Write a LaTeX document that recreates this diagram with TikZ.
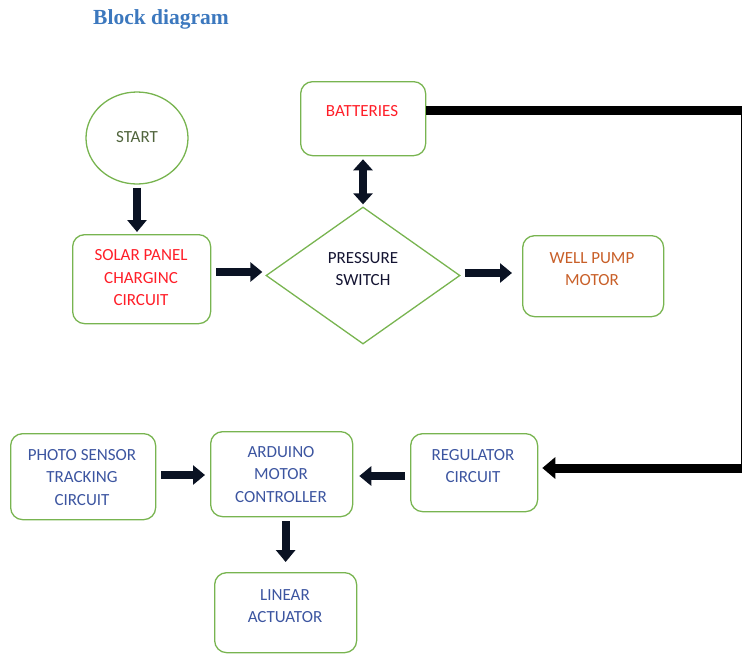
\documentclass[tikz,border=0pt]{standalone}
\usepackage{fontspec}
\setmainfont{Carlito}
\newfontfamily\titlefont{Liberation Serif}
\usetikzlibrary{arrows.meta,shapes.geometric,calc}
\definecolor{boxgreen}{RGB}{120,180,80}
\definecolor{txtred}{RGB}{255,30,40}
\definecolor{txtblue}{RGB}{60,85,160}
\definecolor{txtorange}{RGB}{200,95,40}
\definecolor{txtgreen}{RGB}{80,100,60}
\definecolor{txtnavy}{RGB}{20,20,50}
\definecolor{titleblue}{RGB}{60,120,190}
\definecolor{arrowedge}{RGB}{10,18,35}
\tikzset{
  x=1pt,y=-1pt,
  blockbox/.style={draw=boxgreen,line width=1.3pt,rounded corners=12pt,anchor=north west,inner sep=0pt},
  blockarrow/.style={draw=arrowedge,line width=8pt,-{Triangle[width=19pt,length=12pt]}},
  blockdbl/.style={draw=arrowedge,line width=8pt,{Triangle[width=19pt,length=11pt]}-{Triangle[width=19pt,length=11pt]}},
  busline/.style={draw=black,line width=9pt,-{Triangle[width=21pt,length=13pt]}},
  lbl/.style={font=\fontsize{17}{22.5}\selectfont,align=center}
}
\begin{document}
\begin{tikzpicture}
\useasboundingbox (0,0) rectangle (742,654);
\node[font=\titlefont\bfseries\fontsize{21.5}{24}\selectfont,text=titleblue,anchor=west,inner sep=0pt] (title) at (93,19) {Block diagram};

\node[draw=boxgreen,line width=1.3pt,ellipse,minimum width=102pt,minimum height=92pt,inner sep=0pt] (start) at (137,138) {};
\node[lbl,text=txtgreen] (startt) at (137,137) {START};

\node[blockbox,minimum width=138pt,minimum height=89pt] (solar) at (72,234) {};
\node[lbl,text=txtred] (solart) at (141,278) {SOLAR PANEL\\CHARGINC\\CIRCUIT};

\node[draw=boxgreen,line width=1.3pt,diamond,minimum width=194pt,minimum height=137pt,inner sep=0pt,aspect=1.42] (ps) at (363,275.5) {};
\node[lbl,text=txtnavy] (pst) at (363,269) {PRESSURE\\SWITCH};

\node[blockbox,minimum width=125pt,minimum height=74pt] (bat) at (300,81) {};
\node[lbl,text=txtred] (batt) at (362,111) {BATTERIES};

\node[blockbox,minimum width=141pt,minimum height=81pt] (pump) at (522,235) {};
\node[lbl,text=txtorange] (pumpt) at (592,269) {WELL PUMP\\MOTOR};

\node[blockbox,minimum width=127pt,minimum height=78pt] (reg) at (410,433) {};
\node[lbl,text=txtblue] (regt) at (473,466) {REGULATOR\\CIRCUIT};

\node[blockbox,minimum width=142pt,minimum height=85pt] (ard) at (210,431) {};
\node[lbl,text=txtblue] (ardt) at (281,474.5) {ARDUINO\\MOTOR\\CONTROLLER};

\node[blockbox,minimum width=145pt,minimum height=86pt] (photo) at (10,433) {};
\node[lbl,text=txtblue] (photot) at (82,477.5) {PHOTO SENSOR\\TRACKING\\CIRCUIT};

\node[blockbox,minimum width=142pt,minimum height=80pt] (lin) at (214,572) {};
\node[lbl,text=txtblue] (lint) at (285,606) {LINEAR\\ACTUATOR};

\coordinate (c1) at (745,110);
\coordinate (c2) at (745,468);

\draw[blockarrow] ($(start.south)+(0,3)$) -- ($(solar.north -| start.south)+(0,-2)$);
\draw[blockarrow] ($(solar.east |- 0,272)+(5,0)$) -- ($(ps.west |- 0,272)+(-3,0)$);
\draw[blockdbl] ($(bat.south -| ps.north)+(0,3)$) -- ($(ps.north)+(0,-2)$);
\draw[blockarrow] ($(ps.east |- 0,273)+(4,0)$) -- ($(pump.west |- 0,273)+(-10,0)$);
\draw[busline] (bat.east |- c1) -- (c1) -- (c2) -- ($(reg.east |- c2)+(4,0)$);
\draw[blockarrow] ($(reg.west |- 0,476)+(-5,0)$) -- ($(ard.east |- 0,476)+(6,0)$);
\draw[blockarrow] ($(photo.east |- 0,475)+(5,0)$) -- ($(ard.west |- 0,475)+(-5,0)$);
\draw[blockarrow] ($(ard.south -| lin.north)+(0,4)$) -- ($(lin.north)+(0,-10)$);
\end{tikzpicture}
\end{document}
